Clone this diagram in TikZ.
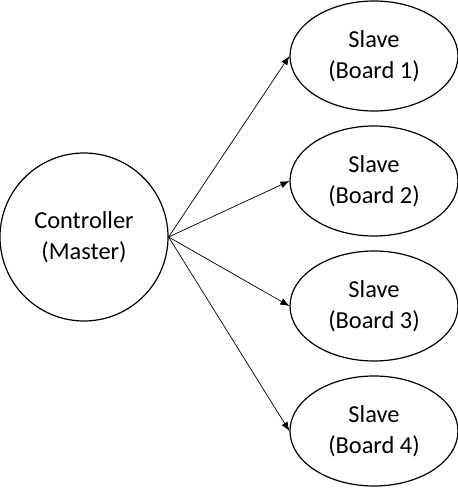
\documentclass[tikz,border=0pt]{standalone}
\usepackage{fontspec}
\setmainfont{Carlito}
\usetikzlibrary{arrows.meta,shapes.geometric}
\tikzset{
  master/.style={draw,circle,line width=0.6pt,minimum size=84pt,inner sep=0pt,
    align=center,font=\fontsize{12.2}{15.6}\selectfont},
  slave/.style={draw,ellipse,line width=0.6pt,minimum width=84pt,minimum height=55pt,
    inner sep=0pt,align=center,font=\fontsize{12.2}{15.6}\selectfont},
  link/.style={-{Latex[length=4.5pt,width=3.5pt]},line width=0.35pt}
}
\begin{document}
\begin{tikzpicture}[x=0.5pt,y=0.5pt]
      \useasboundingbox (0,0) rectangle (458,488);
      \draw
        (84,251) node[master] (m){Controller\\(Master)}
        (374,432) node[slave] (s1){Slave\\(Board 1)}
        (374,307) node[slave] (s2){Slave\\(Board 2)}
        (374,182) node[slave] (s3){Slave\\(Board 3)}
        (374,57) node[slave] (s4){Slave\\(Board 4)};
      \begin{scope}[link]
        \draw (m.east) to (s1.west);
        \draw (m.east) to (s2.west);
        \draw (m.east) to (s3.west);
        \draw (m.east) to (s4.west);
      \end{scope}
    \end{tikzpicture}
\end{document}
